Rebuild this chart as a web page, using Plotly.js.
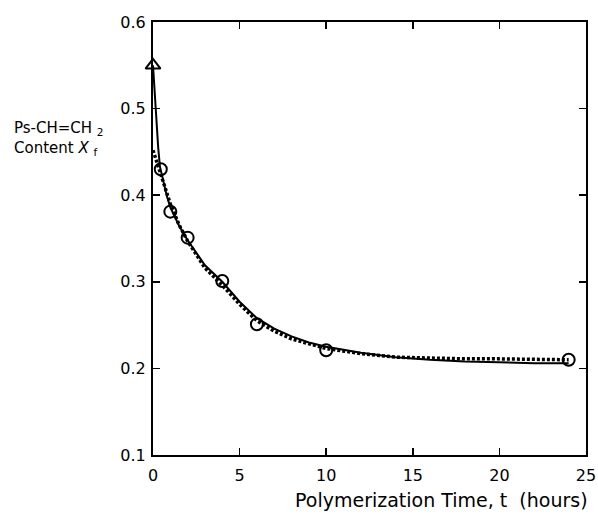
<!DOCTYPE html>
<html>
<head>
<meta charset="utf-8">
<script src="https://cdn.plot.ly/plotly-3.0.1.min.js"></script>
<style>html,body{margin:0;padding:0;background:#fff;}</style>
</head>
<body>
<div id="chart" style="width:598px;height:516px;"></div>
<script>
// Measured data points (circles)
const expT = [0.45, 1, 2, 4, 6, 10, 24];
const expX = [0.430, 0.381, 0.351, 0.301, 0.251, 0.221, 0.210];
// Initial point (triangle)
const initT = [0];
const initX = [0.550];
// Solid model curve
const solidT = [0, 0.1, 0.2, 0.3, 0.4, 0.6, 0.8, 1.0, 1.5, 2, 2.5, 3, 4, 5, 6, 7, 8, 9, 10, 12, 14, 16, 18, 20, 22, 24];
const solidX = [0.550, 0.517, 0.484, 0.455, 0.433, 0.415, 0.399, 0.386, 0.365, 0.348, 0.333, 0.319, 0.300, 0.277, 0.258, 0.246, 0.237, 0.230, 0.225, 0.218, 0.213, 0.210, 0.208, 0.207, 0.206, 0.206];
// Dotted model curve
const dotT = [0, 0.2, 0.5, 1, 1.5, 2, 3, 4, 5, 6, 7, 8, 10, 12, 14, 16, 18, 20, 22, 24];
const dotX = [0.452, 0.440, 0.421, 0.390, 0.366, 0.347, 0.316, 0.296, 0.274, 0.255, 0.243, 0.234, 0.223, 0.217, 0.213, 0.212, 0.211, 0.211, 0.210, 0.210];

const xTicks = [0, 5, 10, 15, 20, 25];
const yTicks = [0.1, 0.2, 0.3, 0.4, 0.5, 0.6];
const yTickText = ['0.1', '0.2', '0.3', '0.4', '0.5', '0.6'];

const FONT = 'DejaVu Sans, Arial, sans-serif';

const traces = [
  {x: solidT, y: solidX, mode: 'lines', line: {color: '#000', width: 2}, hoverinfo: 'skip'},
  {x: dotT, y: dotX, mode: 'lines', line: {color: '#000', width: 3.5, dash: '3px,2px'}, hoverinfo: 'skip'},
  {x: expT, y: expX, mode: 'markers', marker: {symbol: 'circle-open', size: 12, color: '#000', line: {width: 2, color: '#000'}}},
  {x: initT, y: initX, mode: 'markers', marker: {symbol: 'triangle-up-open', size: 13, color: '#000', line: {width: 2, color: '#000'}}, cliponaxis: false}
];

const axisCommon = {
  showgrid: false, zeroline: false, showline: true, linecolor: '#000', linewidth: 2,
  mirror: 'ticks', ticks: 'inside', ticklen: 7, tickwidth: 1.5, tickcolor: '#000',
  tickfont: {family: FONT, size: 16, color: '#000'}
};

const layout = {
  width: 598, height: 516,
  margin: {l: 153, r: 12, t: 22, b: 61},
  paper_bgcolor: '#fff', plot_bgcolor: '#fff',
  showlegend: false,
  font: {family: FONT, color: '#000'},
  xaxis: Object.assign({}, axisCommon, {range: [0, 25], tickvals: xTicks, ticktext: xTicks.map(String), ticklabelstandoff: 5}),
  yaxis: Object.assign({}, axisCommon, {range: [0.1, 0.6], tickvals: yTicks, ticktext: yTickText, ticklabelstandoff: 2}),
  annotations: [
    {xref: 'paper', yref: 'paper', x: (441-153)/(586-153), y: 0, yshift: -32, xanchor: 'center', yanchor: 'top',
     text: 'Polymerization Time, t  (hours)', showarrow: false, font: {family: FONT, size: 19, color: '#000'}},
    {xref: 'paper', yref: 'paper', x: (12-153)/(586-153), y: (455-117)/433, xanchor: 'left', yanchor: 'top', align: 'left',
     text: 'Ps-CH=CH <sub>2</sub><br>Content <i>X</i> <sub>f</sub>', showarrow: false, font: {family: FONT, size: 15, color: '#000'}}
  ]
};

Plotly.newPlot('chart', traces, layout, {staticPlot: true, displayModeBar: false});
</script>
</body>
</html>
